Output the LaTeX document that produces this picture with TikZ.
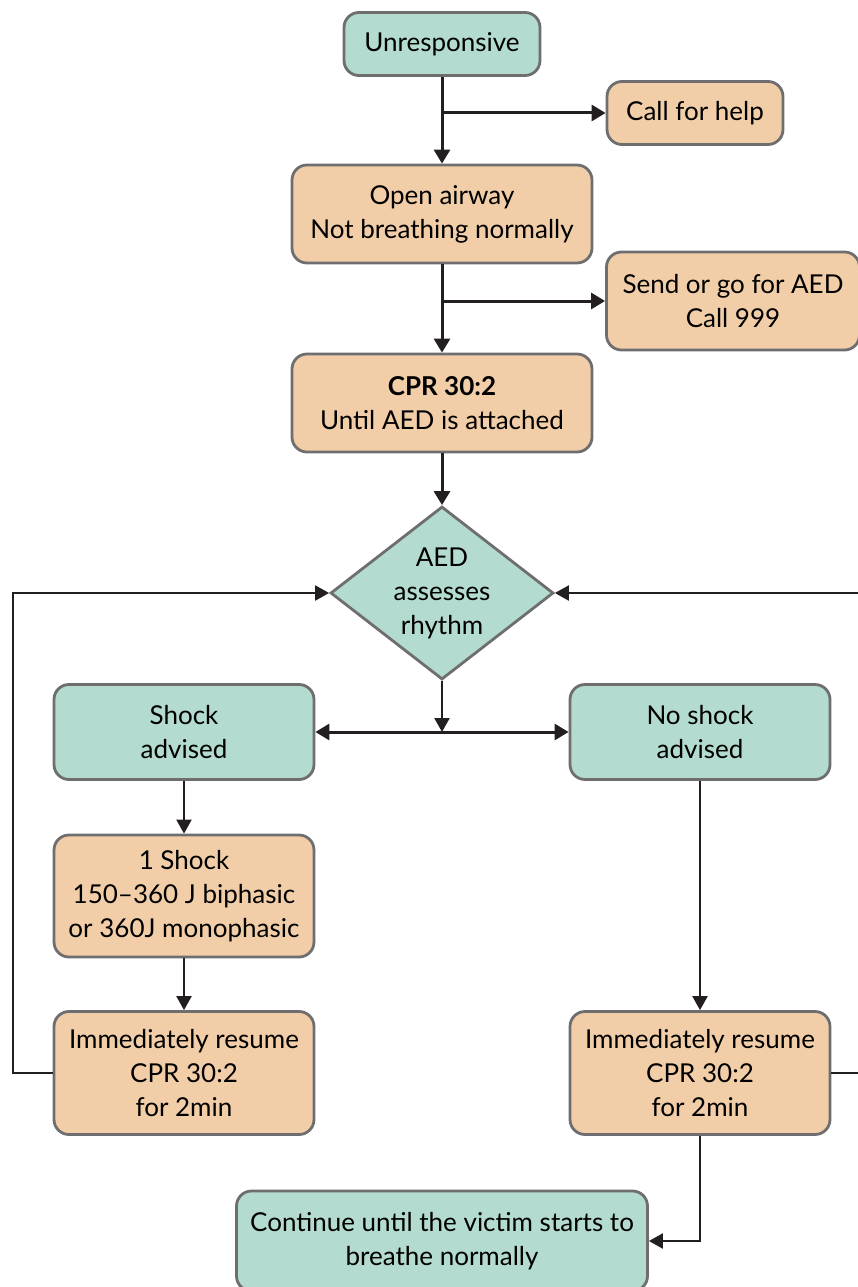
\documentclass[tikz,border=0pt]{standalone}
\usepackage{fontspec}
\setmainfont{Lato}
\usetikzlibrary{arrows.meta, positioning, shapes.geometric}
\definecolor{aedgreen}{RGB}{179,219,207}
\definecolor{aedorange}{RGB}{242,206,168}
\definecolor{aedgrey}{RGB}{110,110,112}
\definecolor{aedblack}{RGB}{35,31,32}

\begin{document}
\begin{tikzpicture}[x=1pt, y=-1pt,
                font=\fontsize{26}{34}\selectfont,
                stepgreen/.style={draw=aedgrey, line width=2.8pt, fill=aedgreen, rounded corners=15pt, align=center, inner sep=0pt},
                steporange/.style={stepgreen, fill=aedorange},
                decision/.style={draw=aedgrey, line width=2.8pt, fill=aedgreen, diamond, aspect=1.29, align=center, inner sep=0pt},
                flow/.style={draw=aedblack, line width=3pt, -{Triangle[length=14pt, width=16pt]}},
                link/.style={draw=aedblack, line width=2.2pt, -{Triangle[length=14pt, width=15pt]}}]
                \useasboundingbox (0, 0) rectangle (857, 1287);

                \node[stepgreen, minimum width=196pt, minimum height=63pt] (unresp) at (442, 44) {Unresponsive};
                \node[steporange, minimum width=176pt, minimum height=63pt] (help) at (695, 113) {Call for help};
                \node[steporange, minimum width=300pt, minimum height=98pt] (airway) at (442, 214) {Open airway\\Not breathing normally};
                \node[steporange, minimum width=253pt, minimum height=98pt] (aed) at (733, 301) {Send or go for AED\\Call 999};
                \node[steporange, minimum width=300pt, minimum height=98pt] (cpr) at (442, 403) {\textbf{CPR 30:2}\\Until AED is attached};
                \node[decision, minimum width=223pt, minimum height=173pt] (rhythm) at (442, 593) {AED\\assesses\\rhythm};
                \coordinate (split) at (442, 732);
                \node[stepgreen, minimum width=260pt, minimum height=95pt] (shock) at (184, 732) {Shock\\advised};
                \node[stepgreen, minimum width=260pt, minimum height=95pt] (noshock) at (700, 732) {No shock\\advised};
                \node[steporange, minimum width=260pt, minimum height=122pt] (oneshock) at (184, 896) {1 Shock\\150--360 J biphasic\\or 360J monophasic};
                \node[steporange, minimum width=260pt, minimum height=123pt] (resumel) at (184, 1073) {Immediately resume\\CPR 30:2\\for 2min};
                \node[steporange, minimum width=260pt, minimum height=123pt] (resumer) at (700, 1073) {Immediately resume\\CPR 30:2\\for 2min};
                \node[stepgreen, minimum width=411pt, minimum height=100pt] (cont) at (442, 1241) {Continue until the victim starts to\\breathe normally};

                \draw[flow] (unresp) -- (airway);
                \draw[flow] (unresp.south |- help.west) -- (help);
                \draw[flow] (airway) -- (cpr);
                \draw[flow] (airway.south |- aed.west) -- (aed);
                \draw[flow] (cpr) -- (rhythm);
                \draw[link] (rhythm) -- (split);
                \draw[flow, {Triangle[length=14pt, width=16pt]}-{Triangle[length=14pt, width=16pt]}] (shock) -- (noshock);
                \draw[link] (shock) -- (oneshock);
                \draw[link] (oneshock) -- (resumel);
                \draw[link] (noshock) -- (resumer);
                \draw[link] (resumel.west) -- ++(-40, 0) |- (rhythm.west);
                \draw[link] (resumer.east) -- ++(40, 0) |- (rhythm.east);
                \draw[link] (resumer.south) |- (cont.east);
            \end{tikzpicture}
\end{document}
